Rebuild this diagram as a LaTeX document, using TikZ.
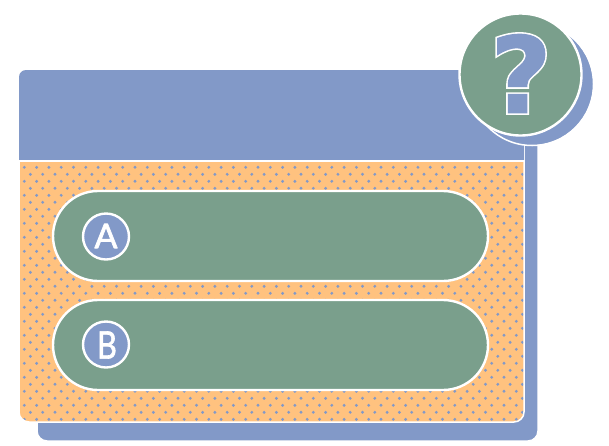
\documentclass[tikz,border=0pt]{standalone}
\usepackage{fontspec}
\newfontfamily\qfont{DejaVu Sans Bold}
\newfontfamily\abfont{Lato}
\definecolor{cblue}{HTML}{8299C8}
\definecolor{cgreen}{HTML}{7A9F8C}
\definecolor{corange}{HTML}{FFC27F}
\newcommand{\outl}[3]{\special{pdf:code 2 Tr #1 w #2}#3\special{pdf:code 0 Tr}}
\tikzset{
  panel/.style={fill=#1,draw=white,line width=1.5pt},
  pill/.style={fill=cgreen,draw=white,line width=2.4pt,rounded corners=45pt},
  badge/.style={circle,fill=cblue,draw=white,line width=2.4pt,minimum size=46pt,inner sep=0pt},
  letter/.style={text=white,inner sep=0pt}
}
\begin{document}
\begin{tikzpicture}[x=1pt,y=-1pt]
\useasboundingbox (0,0) rectangle (609,445);
\fill[white] (0,0) rectangle (609,445);
% shadow
\draw[panel=cblue,rounded corners=10pt] (37,84) rectangle (538,441);
% orange dotted body
\begin{scope}
\clip[rounded corners=10pt] (19,120) rectangle (524,422);
\fill[corange] (19,120) rectangle (524,422);
\foreach \r in {0,...,37}{
  \pgfmathsetmacro{\yy}{167.3+7*\r}
  \pgfmathsetmacro{\xo}{mod(\r,2)==0 ? 24.3 : 30.4}
  \foreach \c in {0,...,41}{
    \fill[cblue] (\xo+12.3*\c,\yy) circle (1.6pt);
  }
}
\end{scope}
\draw[white,line width=1.5pt,rounded corners=10pt] (19,120) -- (19,422) -- (524,422) -- (524,120);
% header
\path[fill=cblue,rounded corners=7pt] (19,160) -- (19,70) -- (524,70) [sharp corners] -- (524,160) -- cycle;
\draw[white,line width=2pt] (19,161) -- (524,161);
% pills
\draw[pill] (53,191) rectangle (488,281);
\draw[pill] (53,300) rectangle (488,390);
\node[badge] (badgeA) at (106,236.5) {};
\node[badge] (badgeB) at (106,344.5) {};
\node[letter] (letterA) at (106,236) {\abfont\fontsize{34}{34}\selectfont\outl{0.7}{1 j 1 J 1 1 1 RG}{A}};
\node[letter,xscale=.8,transform shape] (letterB) at (107,345) {\abfont\fontsize{38}{38}\selectfont\outl{0.7}{1 j 1 J 1 1 1 RG}{B}};
% question badge
\fill[cblue] (532,84) circle (61pt);
\draw[white,line width=1.5pt] (532,84) circle (61.5pt);
\draw[fill=cgreen,draw=white,line width=2.4pt] (520.5,74.5) circle (61pt);
\node[inner sep=0pt] (qmarkout) at (521,73.5) {\qfont\fontsize{106}{106}\selectfont\outl{4.2}{0 j 0 J 1 1 1 RG 1 1 1 rg}{?}};
\node[inner sep=0pt] (qmark) at (521,73.5) {\qfont\fontsize{106}{106}\selectfont\outl{1}{0 j 0 J 0.51 0.6 0.784 RG 0.51 0.6 0.784 rg}{?}};
\end{tikzpicture}
\end{document}
